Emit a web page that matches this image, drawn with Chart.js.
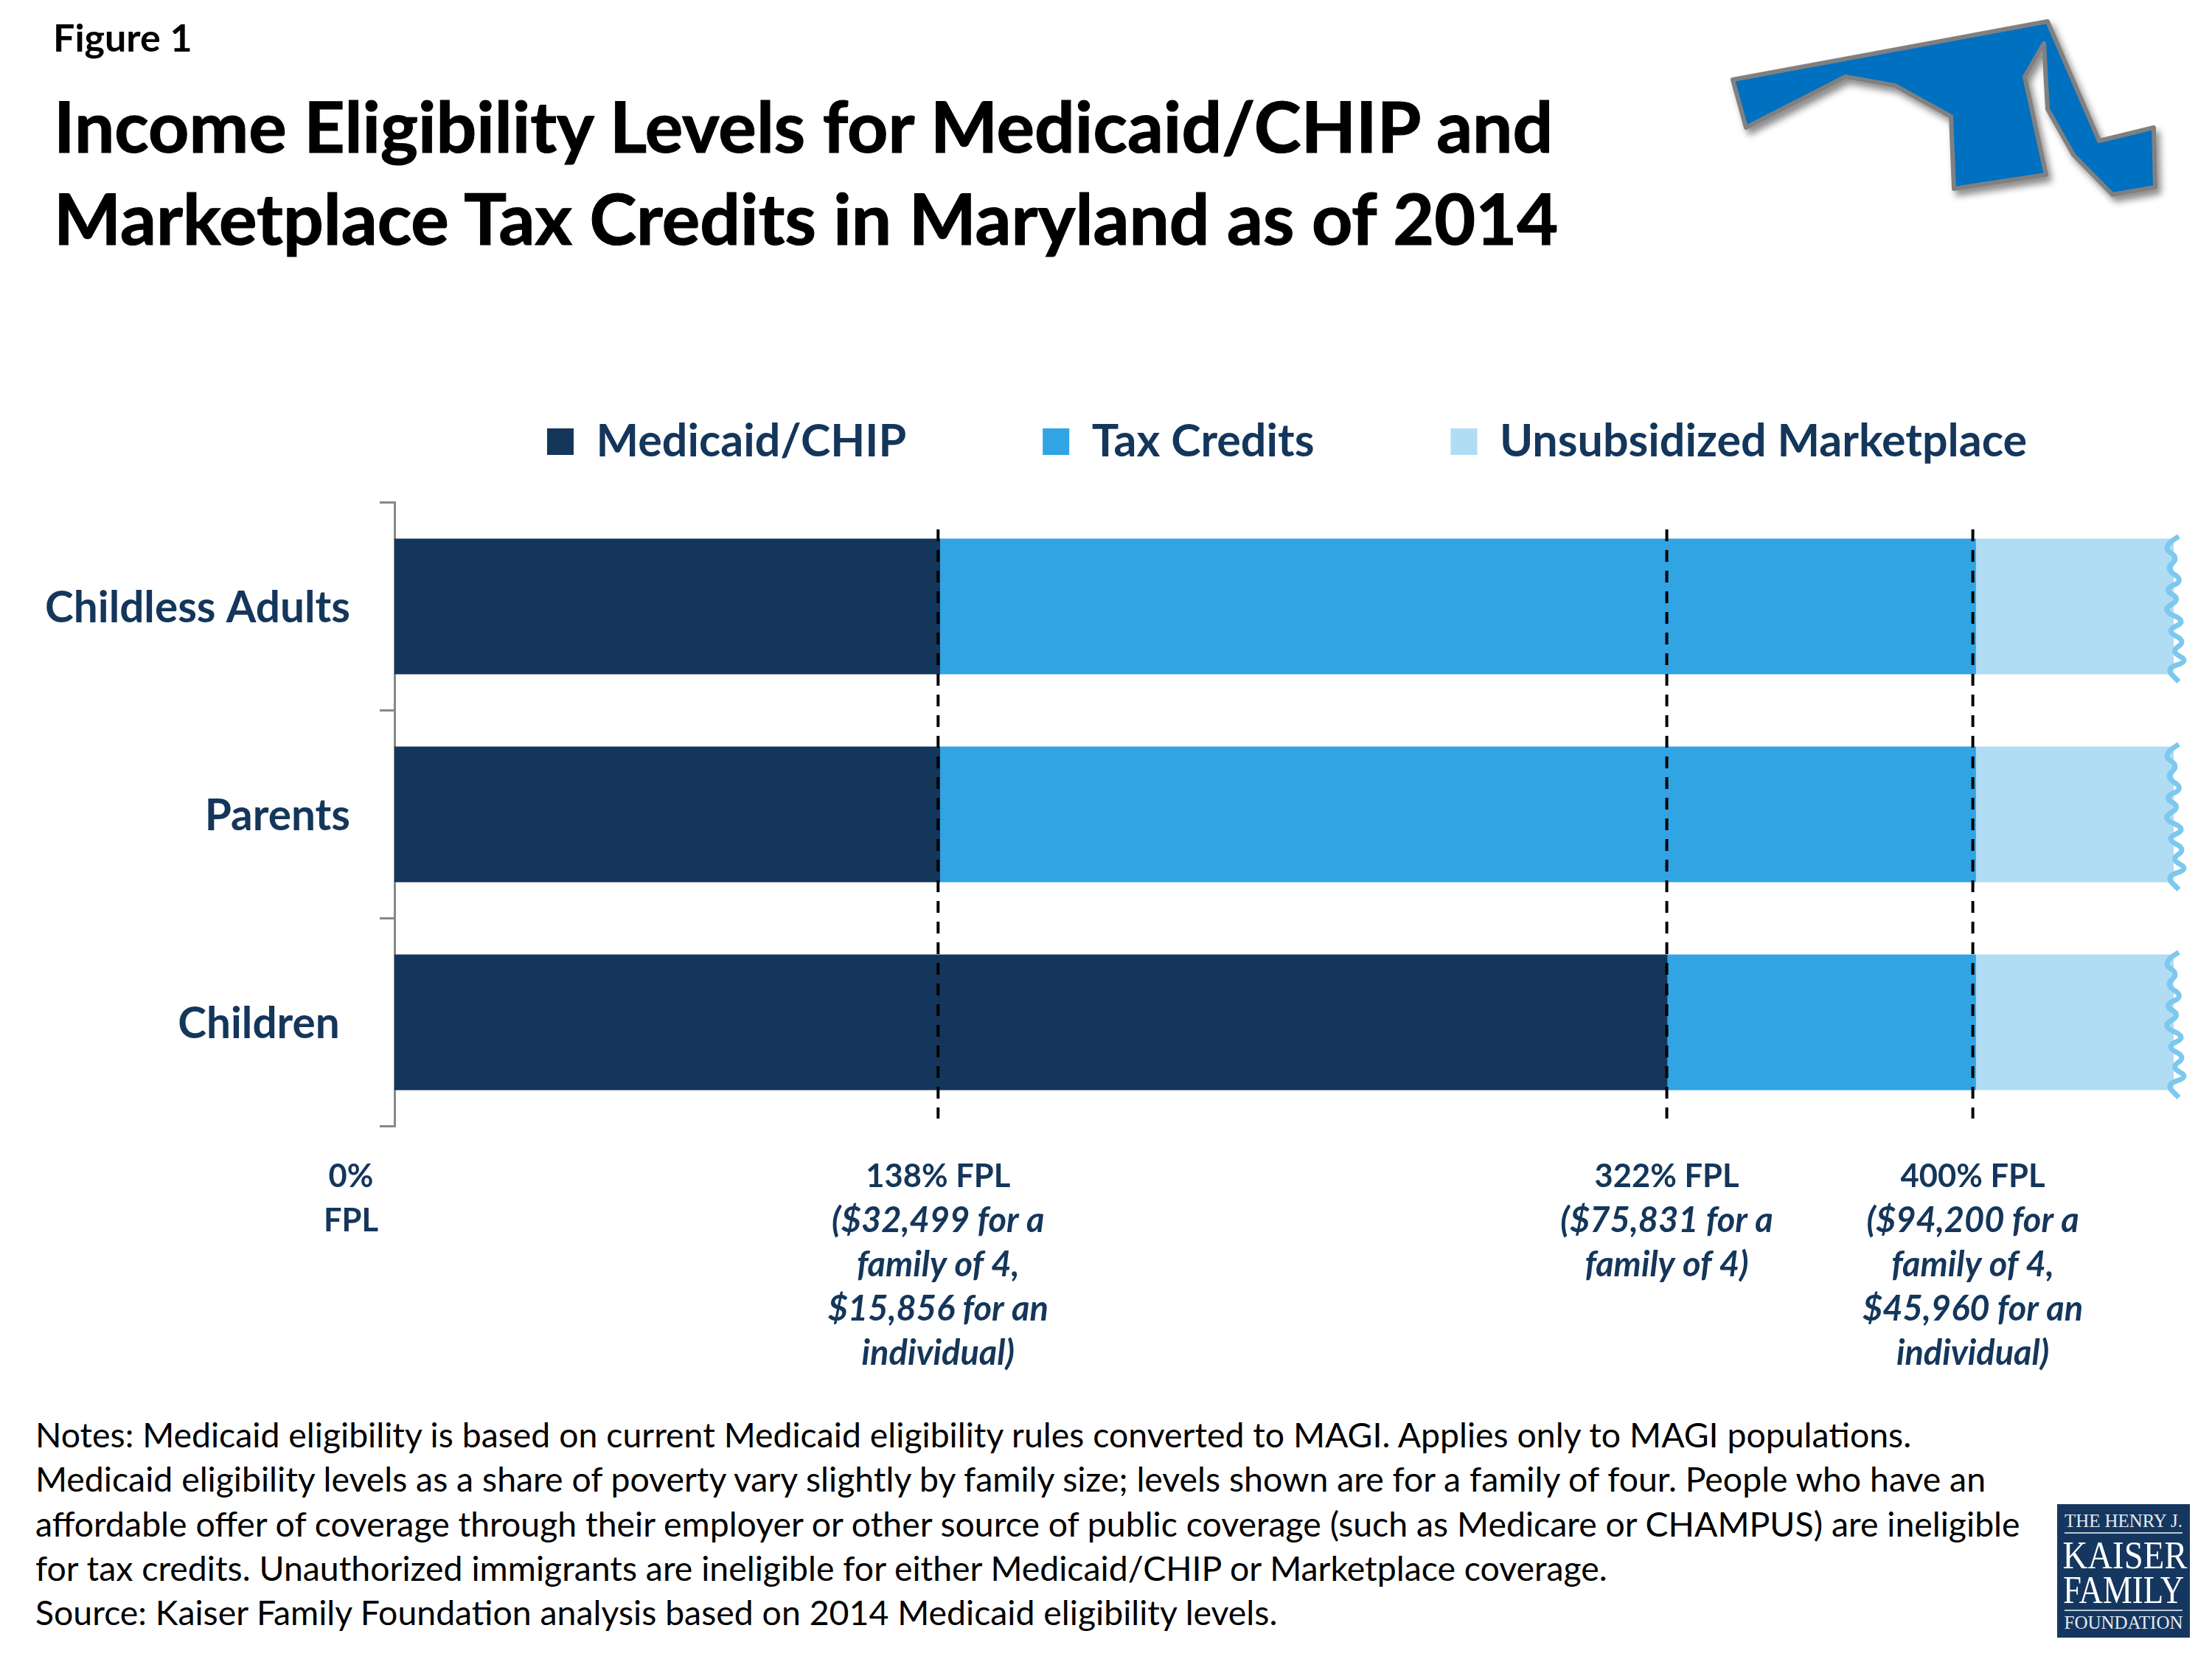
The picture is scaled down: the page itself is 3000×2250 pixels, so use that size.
<!DOCTYPE html>
<html>
<head>
<meta charset="utf-8">
<title>Income Eligibility Levels</title>
<script src="https://cdn.jsdelivr.net/npm/chart.js@4/dist/chart.umd.min.js"></script>
<style>
  html, body { margin: 0; padding: 0; background: #fff; }
  #page { position: relative; width: 3000px; height: 2250px; overflow: hidden; }
  #art, #myChart { position: absolute; left: 0; top: 0; }
  #art text { font-family: Lato, sans-serif; }
</style>
</head>
<body>
<div id="page">
  <svg id="art" width="3000" height="2250" viewBox="0 0 3000 2250">
    <defs>
      <filter id="soft" x="-10%" y="-10%" width="125%" height="130%">
        <feDropShadow dx="5" dy="7" stdDeviation="5" flood-color="#000" flood-opacity="0.45"/>
      </filter>
    </defs>
    <polygon filter="url(#soft)" fill="#0070c0" stroke="#808080" stroke-width="6" stroke-linejoin="round"
      points="2350,108 2777,29 2847,191 2921,173 2923,254 2865,264 2812,210 2777,148 2772,59 2746,104 2775,237 2650,256 2646,158 2570,116 2503,104 2368,173"/>
    <rect x="2790" y="2040" width="180" height="181" fill="#15375f"/>
    <rect x="2800" y="2078" width="160" height="2" fill="#b9c6d6"/>
    <rect x="2800" y="2183" width="160" height="2" fill="#b9c6d6"/>
    <g id="logo"></g>
    <g id="heading"></g>
    <g id="notes"></g>
  </svg>
  <canvas id="myChart" width="3000" height="2250"></canvas>
</div>

<script>
const figureLabel = "Figure 1";
const titleLines = [
  "Income Eligibility Levels for Medicaid/CHIP and",
  "Marketplace Tax Credits in Maryland as of 2014"
];
const noteLines = [
  "Notes: Medicaid eligibility is based on current Medicaid eligibility rules converted to MAGI. Applies only to MAGI populations.",
  "Medicaid eligibility levels as a share of poverty vary slightly by family size; levels shown are for a family of four. People who have an",
  "affordable offer of coverage through their employer or other source of public coverage (such as Medicare or CHAMPUS) are ineligible",
  "for tax credits. Unauthorized immigrants are ineligible for either Medicaid/CHIP or Marketplace coverage.",
  "Source: Kaiser Family Foundation analysis based on 2014 Medicaid eligibility levels."
];

const groups = ["Childless Adults", "Parents", "Children "];
const medicaid = [138, 138, 322];
const taxCredits = [262, 262, 78];
const unsubsidized = [50, 50, 50];

const fplValues = [0, 138, 322, 400];
const fplHeads = [["0%", "FPL"], ["138% FPL"], ["322% FPL"], ["400% FPL"]];
const fplDetails = [
  [],
  ["($32,499 for a", "family of 4,", "$15,856 for an", "individual)"],
  ["($75,831 for a", "family of 4)"],
  ["($94,200 for a", "family of 4,", "$45,960 for an", "individual)"]
];
// dashed markers sit a touch left of the bar joins in the original
const markerValues = [137.5, 321.8, 399.2];

const navy = "#14365b";

function addText(parent, str, x, y, attrs) {
  let el = document.createElementNS("http://www.w3.org/2000/svg", "text");
  el.setAttribute("x", x);
  el.setAttribute("y", y);
  for (let k in attrs) el.setAttribute(k, attrs[k]);
  el.textContent = str;
  document.getElementById(parent).appendChild(el);
}

addText("heading", figureLabel, 72, 70, { "font-size": 52, "font-weight": 700, fill: "#000" });
titleLines.forEach((line, i) => {
  addText("heading", line, 73, 207 + i * 125, { "font-size": 96.5, "font-weight": 700, fill: "#000", stroke: "#000", "stroke-width": 1.2 });
});
noteLines.forEach((line, i) => {
  addText("notes", line, 48, 1963 + i * 60.3, { "font-size": 46.4, fill: "#000" });
});

const serif = "font-family:'Liberation Serif',serif";
const squeeze = "spacingAndGlyphs";
addText("logo", "THE HENRY J.", 2880, 2071, { "font-size": 25, fill: "#e6ebf1", "text-anchor": "middle", style: serif, textLength: 160, lengthAdjust: squeeze });
addText("logo", "KAISER", 2882, 2127, { "font-size": 53, fill: "#fff", "text-anchor": "middle", style: serif, textLength: 169, lengthAdjust: squeeze });
addText("logo", "FAMILY", 2880, 2174, { "font-size": 53, fill: "#fff", "text-anchor": "middle", style: serif, textLength: 164, lengthAdjust: squeeze });
addText("logo", "FOUNDATION", 2880, 2209, { "font-size": 25, fill: "#e6ebf1", "text-anchor": "middle", style: serif, textLength: 161, lengthAdjust: squeeze });

// wiggly end of the light bars, offsets from the bar's top right corner
const wiggle = [[7, -3], [-17, 11], [7, 26], [-11, 41], [14, 57], [-14, 69], [10, 82], [-17, 97], [18, 112], [-11, 125], [17, 139], [-4, 153], [21, 166], [-11, 176], [7, 194]];

const endWiggle = {
  id: "endWiggle",
  afterDatasetsDraw(chart) {
    const ctx = chart.ctx;
    chart.getDatasetMeta(2).data.forEach((bar) => {
      const x0 = bar.x;
      const y0 = bar.y - bar.height / 2;
      ctx.save();
      ctx.strokeStyle = "#7dc8ef";
      ctx.lineWidth = 7;
      ctx.lineJoin = "round";
      ctx.beginPath();
      ctx.moveTo(x0 + wiggle[0][0], y0 + wiggle[0][1]);
      for (let i = 1; i < wiggle.length - 1; i++) {
        const mx = (wiggle[i][0] + wiggle[i + 1][0]) / 2;
        const my = (wiggle[i][1] + wiggle[i + 1][1]) / 2;
        ctx.quadraticCurveTo(x0 + wiggle[i][0], y0 + wiggle[i][1], x0 + mx, y0 + my);
      }
      const last = wiggle[wiggle.length - 1];
      ctx.lineTo(x0 + last[0], y0 + last[1]);
      ctx.stroke();
      ctx.restore();
    });
  }
};

const fplMarkers = {
  id: "fplMarkers",
  afterDatasetsDraw(chart) {
    const ctx = chart.ctx;
    const xs = chart.scales.x;
    ctx.save();
    ctx.strokeStyle = "#000";
    ctx.lineWidth = 4;
    ctx.setLineDash([16, 12]);
    markerValues.forEach((v) => {
      const x = xs.getPixelForValue(v);
      ctx.beginPath();
      ctx.moveTo(x, 718);
      ctx.lineTo(x, 1517);
      ctx.stroke();
    });
    ctx.restore();

    // labels under the axis: bold head, bold italic detail
    ctx.save();
    ctx.fillStyle = navy;
    ctx.textAlign = "center";
    ctx.textBaseline = "alphabetic";
    fplValues.forEach((v, i) => {
      // the 0% label sits left of the axis
      const x = i === 0 ? 476 : xs.getPixelForValue(markerValues[i - 1]);
      let y = 1610;
      ctx.font = "700 43.5px Lato";
      fplHeads[i].forEach((line) => {
        ctx.fillText(line, x, y);
        y += 60;
      });
      ctx.font = "italic 700 47px Lato";
      fplDetails[i].forEach((line) => {
        ctx.fillText(line, x, y + 1);
        y += 60;
      });
    });
    ctx.restore();
  }
};

// the legend box is placed by hand, its padding would push the bars down otherwise
const legendSpot = {
  id: "legendSpot",
  afterLayout(chart) {
    const lg = chart.legend;
    lg.left = 742 - 185;
    lg.right = 3000;
    lg.top = 581 - (61 - 36) / 2 - 185;
    lg.bottom = 800;
  }
};

new Chart(document.getElementById("myChart"), {
  type: "bar",
  data: {
    labels: groups,
    datasets: [
      { label: "Medicaid/CHIP", data: medicaid, backgroundColor: navy },
      { label: "Tax Credits", data: taxCredits, backgroundColor: "#31a4e3" },
      { label: "Unsubsidized Marketplace", data: unsubsidized, backgroundColor: "#b0ddf4" }
    ]
  },
  plugins: [legendSpot, fplMarkers, endWiggle],
  options: {
    indexAxis: "y",
    responsive: false,
    animation: false,
    devicePixelRatio: 1,
    layout: { padding: { top: 581.5, right: 52, bottom: 722.5, left: 0 } },
    datasets: { bar: { categoryPercentage: 1, barPercentage: 0.652 } },
    plugins: {
      title: { display: false },
      tooltip: { enabled: false },
      legend: {
        position: "top",
        align: "start",
        maxHeight: 100,
        labels: {
          boxWidth: 36,
          boxHeight: 36,
          padding: 185,
          color: navy,
          font: { family: "Lato", weight: "700", size: 61 }
        }
      }
    },
    scales: {
      x: {
        stacked: true,
        min: 0,
        max: 450,
        afterFit(scale) { scale.height = 0; },
        grid: { display: false },
        border: { display: false },
        ticks: { display: false }
      },
      y: {
        stacked: true,
        afterFit(scale) { scale.width = 535; },
        grid: { drawOnChartArea: false, color: "#888888", lineWidth: 3, tickLength: 20 },
        border: { color: "#888888", width: 3 },
        ticks: {
          autoSkip: false,
          crossAlign: "near",
          padding: 40,
          labelOffset: 3,
          color: navy,
          font: { family: "Lato", weight: "700", size: 58.5 }
        }
      }
    }
  }
});
</script>
</body>
</html>
